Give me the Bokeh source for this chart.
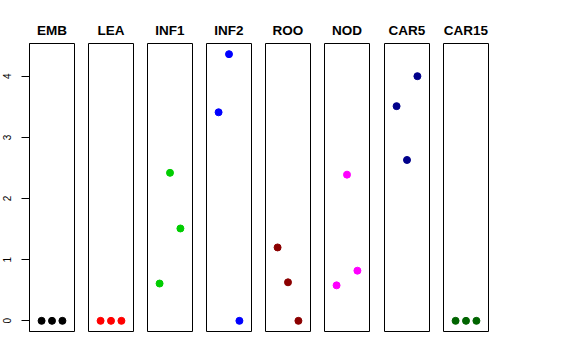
from bokeh.plotting import figure
from bokeh.layouts import row
from bokeh.models import Range1d, FixedTicker
from bokeh.embed import file_html
from bokeh.resources import INLINE

# ---- data ----
tissues = ["EMB", "LEA", "INF1", "INF2", "ROO", "NOD", "CAR5", "CAR15"]
colors = ["#000000", "#FF0000", "#00CD00", "#0000FF", "#8B0000", "#FF00FF", "#00008B", "#006400"]
x_index = [1, 2, 3]
EMB = [0.0, 0.0, 0.0]
LEA = [0.0, 0.0, 0.0]
INF1 = [0.61, 2.42, 1.51]
INF2 = [3.41, 4.36, 0.0]
ROO = [1.20, 0.63, 0.0]
NOD = [0.58, 2.39, 0.82]
CAR5 = [3.51, 2.63, 4.00]
CAR15 = [0.0, 0.0, 0.0]
y_ticks = [0, 1, 2, 3, 4]

series = [EMB, LEA, INF1, INF2, ROO, NOD, CAR5, CAR15]

ymax = max(max(s) for s in series)
ymin = 0.0
pad = 0.04 * (ymax - ymin)
xpad = 0.04 * 4

FONT = "Liberation Sans"

figs = []
for i, (name, vals, col) in enumerate(zip(tissues, series, colors)):
    first = i == 0
    p = figure(
        frame_width=45, frame_height=288,
        x_range=Range1d(0 - xpad, 4 + xpad),
        y_range=Range1d(ymin - pad, ymax + pad),
        output_backend="svg", toolbar_location=None,
        x_axis_location=None,
        y_axis_location="left" if first else None,
        min_border_left=29 if first else 7,
        min_border_right=8 if i in (5,) else 7,
        min_border_top=43, min_border_bottom=10,
    )
    p.title.text = name
    p.title.align = "center"
    p.title.text_font = FONT
    p.title.text_font_style = "bold"
    p.title.text_font_size = "13.5px"
    p.title.text_color = "black"
    p.title.standoff = 11
    p.outline_line_color = "black"
    p.outline_line_width = 1
    p.outline_line_alpha = 1
    p.background_fill_color = "white"
    p.border_fill_color = "white"
    p.grid.visible = False
    if first:
        ax = p.yaxis[0]
        ax.ticker = FixedTicker(ticks=y_ticks)
        ax.major_label_orientation = "vertical"
        ax.major_tick_out = 8
        ax.major_tick_in = 0
        ax.minor_tick_out = 0
        ax.minor_tick_in = 0
        ax.major_label_standoff = 10
        ax.major_label_text_font = FONT
        ax.major_label_text_font_size = "10px"
        ax.major_label_text_color = "black"
        ax.axis_line_color = "black"
        ax.major_tick_line_color = "black"
    p.scatter(x_index, vals, size=7, marker="circle", fill_color=col, line_color=col)
    figs.append(p)

layout = row(figs)

open("out.html", "w").write(file_html(layout, INLINE))
